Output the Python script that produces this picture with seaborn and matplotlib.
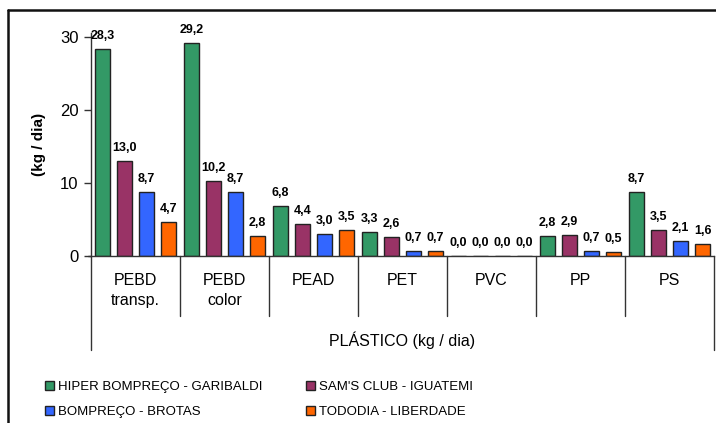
import matplotlib
matplotlib.use("Agg")
import matplotlib.pyplot as plt
import seaborn as sns
import pandas as pd
from matplotlib.lines import Line2D
from matplotlib.patches import Patch
from matplotlib.transforms import blended_transform_factory

categories = ["PEBD\ntransp.", "PEBD\ncolor", "PEAD", "PET", "PVC", "PP", "PS"]
stores = ["HIPER BOMPREÇO - GARIBALDI", "SAM'S CLUB - IGUATEMI",
          "BOMPREÇO - BROTAS", "TODODIA - LIBERDADE"]
hiper = [28.3, 29.2, 6.8, 3.3, 0.0, 2.8, 8.7]
sams = [13.0, 10.2, 4.4, 2.6, 0.0, 2.9, 3.5]
brotas = [8.7, 8.7, 3.0, 0.7, 0.0, 0.7, 2.1]
tododia = [4.7, 2.8, 3.5, 0.7, 0.0, 0.5, 1.6]
colors = ["#339966", "#993366", "#3366FF", "#FF6600"]
yticks = [0, 10, 20, 30]
xlabel = "PLÁSTICO (kg / dia)"
ylabel = "(kg / dia)"

series = [hiper, sams, brotas, tododia]
rows = []
for s, vals in zip(stores, series):
    for c, v in zip(categories, vals):
        rows.append({"cat": c, "store": s, "val": v})
df = pd.DataFrame(rows)

sns.set_theme(style="white")
plt.rcParams["font.family"] = ["Liberation Sans", "DejaVu Sans"]
plt.rcParams["text.color"] = "black"
plt.rcParams["axes.labelcolor"] = "black"
plt.rcParams["xtick.color"] = "black"
plt.rcParams["ytick.color"] = "black"

W, H = 716, 423
fig = plt.figure(figsize=(W / 100, H / 100), dpi=100)
ax = fig.add_axes([91 / W, 1 - 256 / H, (714 - 91) / W, (256 - 33) / H])

sns.barplot(data=df, x="cat", y="val", hue="store", order=categories,
            hue_order=stores, palette=colors, saturation=1, width=0.99,
            gap=0.3, edgecolor="#222222", linewidth=1.0, ax=ax, legend=False)

ax.set_ylim(0, 30.5)
ax.set_xlim(-0.5, len(categories) - 0.5)
ax.set_yticks(yticks)
ax.set_yticklabels([str(t) for t in yticks], fontsize=12)
ax.tick_params(axis="y", which="major", length=5, width=1, color="#333333",
               left=True, pad=4)
ax.set_ylabel(ylabel, fontsize=11, fontweight="bold", labelpad=10)
ax.set_xlabel("")
for side in ["top", "right"]:
    ax.spines[side].set_visible(False)
for side in ["left", "bottom"]:
    ax.spines[side].set_color("#333333")
    ax.spines[side].set_linewidth(1.0)

# category labels
ax.set_xticks(range(len(categories)))
ax.set_xticklabels(categories, fontsize=11.5, linespacing=1.45)
ax.tick_params(axis="x", which="major", length=0, pad=12)

# dividers
trans = blended_transform_factory(ax.transData, ax.transAxes)
px = 1 / (256 - 33)
for i in range(len(categories) + 1):
    xpos = i - 0.5
    bottom = -(350 - 256) * px if i in (0, len(categories)) else -(316 - 256) * px
    ax.add_line(Line2D([xpos, xpos], [0, bottom], transform=trans,
                       color="#333333", linewidth=1.0, clip_on=False))
ax.plot([-0.5, -0.5 - 0.03], [0, 0], color="#333333", lw=1, clip_on=False)

ax.text(3.0, -(340 - 256) * px, xlabel, transform=trans, ha="center",
        va="center", fontsize=11.5)

# value labels
for cont in ax.containers:
    labels = [f"{b.get_height():.1f}".replace(".", ",") for b in cont]
    ax.bar_label(cont, labels=labels, padding=5, fontsize=9,
                 fontweight="bold")

# legend (row-major order like the reference)
handles = [Patch(facecolor=c, edgecolor="#222222", linewidth=1.0) for c in colors]
order = [0, 2, 1, 3]
fig.legend([handles[i] for i in order], [stores[i] for i in order], ncol=2,
           loc="upper left", bbox_to_anchor=(38 / W, 1 - 374 / H),
           frameon=False, fontsize=9.5, handlelength=0.7, handleheight=0.7,
           handletextpad=0.3, columnspacing=3.3, labelspacing=1.0, borderpad=0)

# outer frame
fig.add_artist(Line2D([8 / W, 1.0], [1 - 10 / H, 1 - 10 / H],
                      transform=fig.transFigure, color="#111111", lw=1.8))
fig.add_artist(Line2D([8 / W, 8 / W], [0, 1 - 10 / H],
                      transform=fig.transFigure, color="#111111", lw=1.8))

fig.savefig("out.png", dpi=100)
